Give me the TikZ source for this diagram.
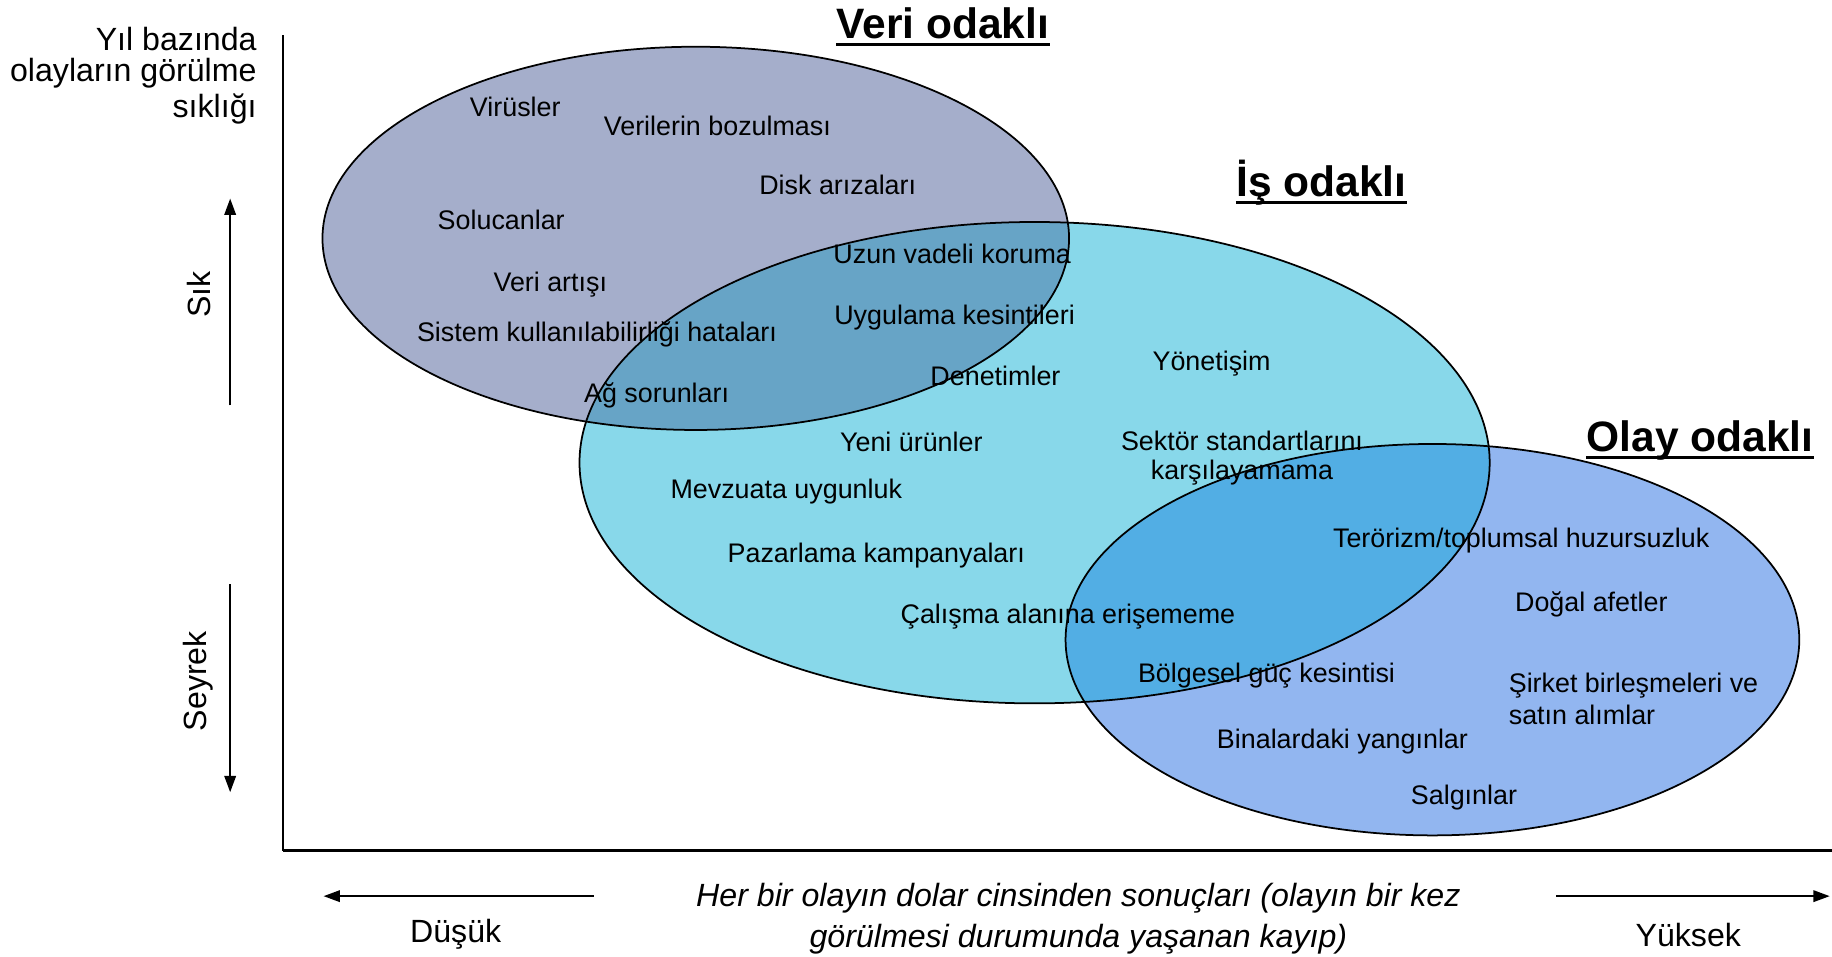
\documentclass[tikz,border=0pt]{standalone}
\usepackage{fontspec}
\setmainfont{Liberation Sans}
\usetikzlibrary{arrows.meta}
\definecolor{veriC}{HTML}{A5AECB}
\definecolor{isC}{HTML}{88D8EA}
\definecolor{veriisC}{HTML}{67A4C6}
\definecolor{olayC}{HTML}{92B6F0}
\definecolor{isolayC}{HTML}{52AEE4}
\tikzset{
  lbl/.style={inner sep=0pt, yshift=-1.2pt, font=\fontsize{11.5pt}{13pt}\selectfont},
  big/.style={inner sep=0pt, yshift=-1.5pt, font=\fontsize{13.75pt}{17pt}\selectfont},
  ttl/.style={inner sep=0pt, font=\fontsize{18.2pt}{22pt}\selectfont\bfseries},
  uline/.style={line width=1.4pt},
  ring/.style={draw=black, line width=0.75pt},
  axisarrow/.style={line width=0.65pt, -{Triangle[length=7pt,width=5pt]}},
}
\begin{document}
\begin{tikzpicture}[x=0.5pt,y=-0.5pt]
\useasboundingbox (0,0) rectangle (1568,819);
% fills
\fill[veriC] (595.5,204) ellipse [x radius=159.75pt, y radius=82pt];
\fill[isC] (885.5,396) ellipse [x radius=194.75pt, y radius=103pt];
\fill[olayC] (1226,547.5) ellipse [x radius=157pt, y radius=83.75pt];
\begin{scope}
  \clip (595.5,204) ellipse [x radius=159.75pt, y radius=82pt];
  \fill[veriisC] (885.5,396) ellipse [x radius=194.75pt, y radius=103pt];
\end{scope}
\begin{scope}
  \clip (885.5,396) ellipse [x radius=194.75pt, y radius=103pt];
  \fill[isolayC] (1226,547.5) ellipse [x radius=157pt, y radius=83.75pt];
\end{scope}
% outlines
\draw[ring] (595.5,204) ellipse [x radius=159.75pt, y radius=82pt];
\draw[ring] (885.5,396) ellipse [x radius=194.75pt, y radius=103pt];
\draw[ring] (1226,547.5) ellipse [x radius=157pt, y radius=83.75pt];
% axes
\coordinate (ytop) at (242,30);
\coordinate (orig) at (242,728);
\coordinate (xend) at (1568,728);
\draw[line width=0.65pt] (ytop) -- (orig);
\draw[line width=1pt] (orig) -- (xend);
% direction arrows
\coordinate (sikA) at (197,347);
\coordinate (sikB) at (197,170);
\coordinate (seyA) at (197,500);
\coordinate (seyB) at (197,678);
\coordinate (dusA) at (508,767);
\coordinate (dusB) at (277,767);
\coordinate (yukA) at (1332,767);
\coordinate (yukB) at (1566,767);
\draw[axisarrow] (sikA) -- (sikB);
\draw[axisarrow] (seyA) -- (seyB);
\draw[axisarrow] (dusA) -- (dusB);
\draw[axisarrow] (yukA) -- (yukB);
% axis labels
\node[big, anchor=east] (yl1) at (220,30) {Yıl bazında};
\node[big, anchor=east] (yl2) at (220,60) {olayların görülme};
\node[big, anchor=east] (yl3) at (220,90) {sıklığı};
\node[inner sep=0pt, font=\fontsize{13.75pt}{17pt}\selectfont, rotate=90] (sik) at (170,252) {Sık};
\node[inner sep=0pt, font=\fontsize{13.75pt}{17pt}\selectfont, rotate=90] (seyrek) at (170,583) {Seyrek};
\node[big] (dusuk) at (390,797) {Düşük};
\node[big] (yuksek) at (1445,797) {Yüksek};
\node[big, font=\fontsize{13.75pt}{17.5pt}\selectfont\itshape, align=center] (xl) at (923,783)
  {Her bir olayın dolar cinsinden sonuçları (olayın bir kez\\görülmesi durumunda yaşanan kayıp)};
% titles
\node[ttl] (t1) at (807,20) {Veri odaklı};
\draw[uline] ([yshift=-2.6pt]t1.base west) -- ([yshift=-2.6pt]t1.base east);
\node[ttl] (t2) at (1131,156) {İş odaklı};
\draw[uline] ([yshift=-2.6pt]t2.base west) -- ([yshift=-2.6pt]t2.base east);
\node[ttl] (t3) at (1455,377) {Olay odaklı};
\draw[uline] ([yshift=-2.6pt]t3.base west) -- ([yshift=-2.6pt]t3.base east);
% items
\node[lbl] (a1) at (441,89) {Virüsler};
\node[lbl] (a2) at (614,105) {Verilerin bozulması};
\node[lbl] (a3) at (717,156) {Disk arızaları};
\node[lbl] (a4) at (429,186) {Solucanlar};
\node[lbl] (a5) at (471,241) {Veri artışı};
\node[lbl] (a6) at (511,284) {Sistem kullanılabilirliği hataları};
\node[lbl] (a7) at (562,336) {Ağ sorunları};
\node[lbl] (a8) at (815,215) {Uzun vadeli koruma};
\node[lbl] (a9) at (817,269) {Uygulama kesintileri};
\node[lbl] (b1) at (852,319) {Denetimler};
\node[lbl] (b2) at (1037,309) {Yönetişim};
\node[lbl] (b3) at (780,376) {Yeni ürünler};
\node[lbl, align=center, font=\fontsize{11.5pt}{12.5pt}\selectfont] (b4) at (1063,390) {Sektör standartlarını\\karşılayamama};
\node[lbl] (b5) at (673,418) {Mevzuata uygunluk};
\node[lbl] (b6) at (750,473) {Pazarlama kampanyaları};
\node[lbl] (b7) at (914,525) {Çalışma alanına erişememe};
\node[lbl] (c1) at (1302,460) {Terörizm/toplumsal huzursuzluk};
\node[lbl] (c2) at (1362,515) {Doğal afetler};
\node[lbl] (c3) at (1084,576) {Bölgesel güç kesintisi};
\node[lbl, align=left, anchor=west, font=\fontsize{11.5pt}{13.5pt}\selectfont] (c4) at (1291,596) {Şirket birleşmeleri ve\\satın alımlar};
\node[lbl] (c5) at (1149,632) {Binalardaki yangınlar};
\node[lbl] (c6) at (1253,680) {Salgınlar};
\end{tikzpicture}
\end{document}
